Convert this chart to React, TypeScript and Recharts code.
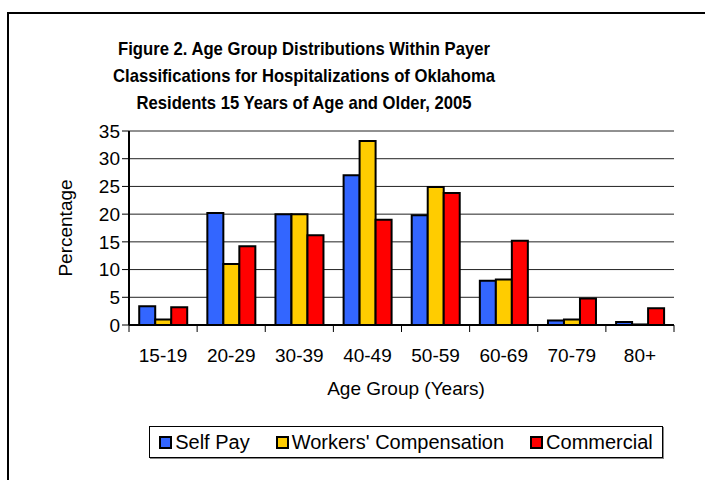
import { BarChart, Bar, XAxis, YAxis, CartesianGrid } from "recharts";

const ageGroups = ["15-19", "20-29", "30-39", "40-49", "50-59", "60-69", "70-79", "80+"];
const selfPay = [3.4, 20.2, 20.0, 27.0, 19.8, 8.0, 0.8, 0.55];
const workersComp = [1.0, 11.0, 20.0, 33.2, 24.9, 8.2, 1.0, 0.1];
const commercial = [3.2, 14.2, 16.2, 19.0, 23.8, 15.2, 4.8, 3.0];
const yTicks = [0, 5, 10, 15, 20, 25, 30, 35];

const titleLines = [
  "Figure 2. Age Group Distributions Within Payer",
  "Classifications for Hospitalizations of Oklahoma",
  "Residents 15 Years of Age and Older, 2005",
];

const series = [
  { key: "selfPay", name: "Self Pay", color: "#3366FF" },
  { key: "workersComp", name: "Workers' Compensation", color: "#FFCC00" },
  { key: "commercial", name: "Commercial", color: "#FF0000" },
];

const data = ageGroups.map((g, i) => ({
  group: g,
  selfPay: selfPay[i],
  workersComp: workersComp[i],
  commercial: commercial[i],
}));

const FONT = "'Liberation Sans', Arial, sans-serif";
const PLOT_LEFT = 129;
const PLOT_RIGHT = 674;
const HALF_BAND = (PLOT_RIGHT - PLOT_LEFT) / ageGroups.length / 2;

const CategoryTick = (props: any) => {
  const { x, y, payload, index } = props;
  const half = payload && payload.offset ? payload.offset : HALF_BAND;
  const last = index === ageGroups.length - 1;
  return (
    <g>
      <line x1={x - half} x2={x - half} y1={y - 8} y2={y - 1} stroke="#000" strokeWidth={1} />
      {last && <line x1={x + half} x2={x + half} y1={y - 8} y2={y - 1} stroke="#000" strokeWidth={1} />}
      <text x={x} y={y + 29} textAnchor="middle" fontSize={19} fontFamily={FONT} fill="#000">
        {payload.value}
      </text>
    </g>
  );
};

const App = () => {
  return (
    <div style={{ position: "absolute", left: 0, top: 0, width: 705, height: 480, overflow: "hidden", background: "#fff" }}>
      <div
        style={{
          position: "absolute",
          left: 7,
          top: 12,
          width: 740,
          height: 520,
          borderLeft: "2px solid #000",
          borderTop: "2px solid #000",
        }}
      />
      <div
        style={{
          position: "absolute",
          left: 4,
          top: 35,
          width: 600,
          textAlign: "center",
          fontFamily: FONT,
          fontWeight: "bold",
          fontSize: 19,
          lineHeight: "27px",
          color: "#000",
          whiteSpace: "nowrap",
          transform: "scaleX(0.876)",
          transformOrigin: "center",
        }}
      >
        {titleLines.map((t) => (
          <div key={t}>{t}</div>
        ))}
      </div>
      <div style={{ position: "absolute", left: 0, top: 0 }}>
        <BarChart
          width={705}
          height={480}
          data={data}
          margin={{ top: 131, right: 705 - PLOT_RIGHT, left: PLOT_LEFT - 60, bottom: 480 - 325 - 40 }}
          barCategoryGap="15%"
          barGap={0}
        >
          <CartesianGrid vertical={false} stroke="#222" strokeWidth={1} />
          <XAxis
            dataKey="group"
            height={40}
            axisLine={{ stroke: "#000", strokeWidth: 2 }}
            tickLine={false}
            tick={<CategoryTick />}
            interval={0}
          />
          <XAxis xAxisId="top" orientation="top" dataKey="group" height={0} tick={false} tickLine={false} axisLine={{ stroke: "#000", strokeWidth: 2 }} />
          <YAxis
            width={60}
            domain={[0, 35]}
            ticks={yTicks}
            interval={0}
            axisLine={{ stroke: "#000", strokeWidth: 2 }}
            tickLine={{ stroke: "#000", strokeWidth: 1 }}
            tickSize={7}
            tick={{ fontSize: 19, fontFamily: FONT, fill: "#000" }}
          />
          <YAxis yAxisId="right" orientation="right" width={0} tick={false} tickLine={false} axisLine={{ stroke: "#000", strokeWidth: 2 }} domain={[0, 35]} />
          {series.map((s) => (
            <Bar key={s.key} dataKey={s.key} name={s.name} fill={s.color} stroke="#000" strokeWidth={2} isAnimationActive={false} />
          ))}
        </BarChart>
      </div>
      <div
        style={{
          position: "absolute",
          left: 66,
          top: 228,
          transform: "translate(-50%, -50%) rotate(-90deg)",
          transformOrigin: "center",
          fontFamily: FONT,
          fontSize: 19,
          whiteSpace: "nowrap",
          color: "#000",
        }}
      >
        Percentage
      </div>
      <div
        style={{
          position: "absolute",
          left: 206,
          width: 400,
          top: 378,
          textAlign: "center",
          fontFamily: FONT,
          fontSize: 19,
          color: "#000",
        }}
      >
        Age Group (Years)
      </div>
      <div
        style={{
          position: "absolute",
          left: 149,
          top: 426,
          width: 512,
          height: 30,
          border: "1px solid #000",
          boxShadow: "1px 1px 0 #888",
          display: "flex",
          alignItems: "center",
          justifyContent: "center",
          gap: 26,
          fontFamily: FONT,
          fontSize: 20,
          color: "#000",
        }}
      >
        {series.map((s) => (
          <div key={s.key} style={{ display: "flex", alignItems: "center" }}>
            <span
              style={{
                display: "inline-block",
                width: 9,
                height: 9,
                background: s.color,
                border: "2px solid #000",
                marginRight: 3,
              }}
            />
            <span>{s.name}</span>
          </div>
        ))}
      </div>
    </div>
  );
};

export default App;
